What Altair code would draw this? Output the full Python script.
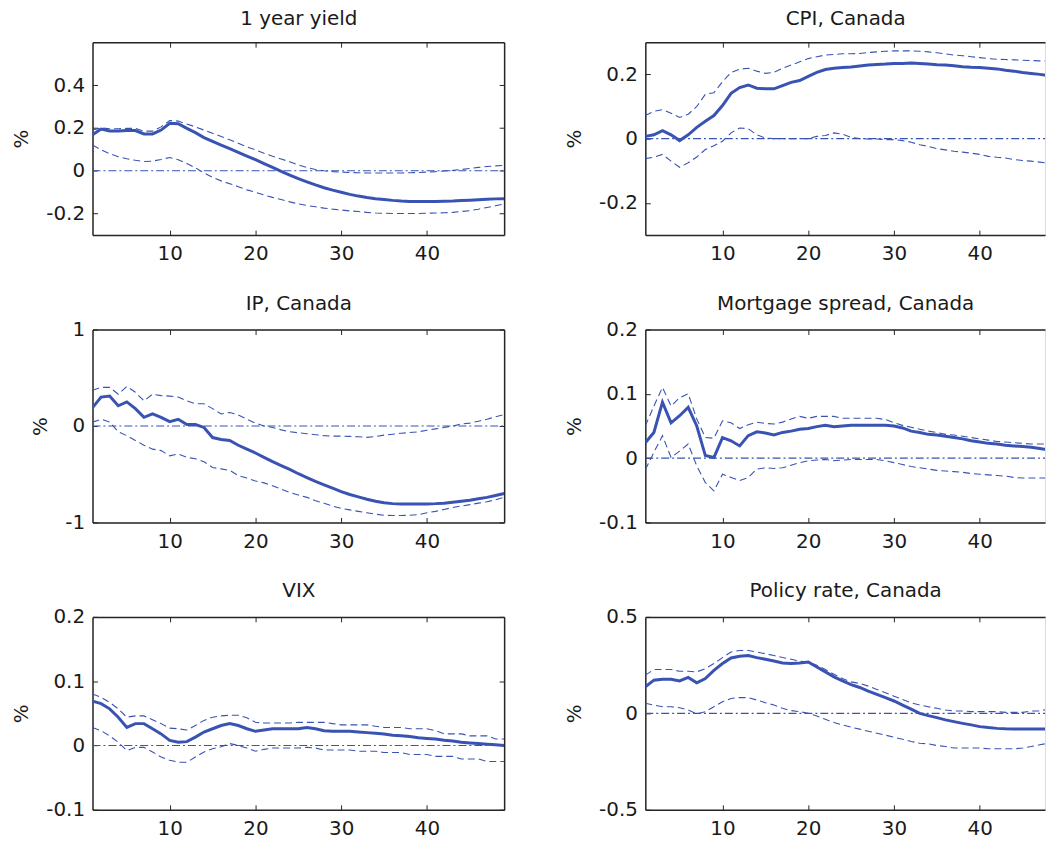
import altair as alt
import pandas as pd

X = list(range(1, 50))

# ---- 1 year yield ----
yield_med = [0.168, 0.195, 0.186, 0.186, 0.188, 0.188, 0.172, 0.172, 0.19, 0.222,
             0.22, 0.198, 0.178, 0.155, 0.137, 0.12, 0.103, 0.086, 0.069, 0.052,
             0.034, 0.016, -0.003, -0.02, -0.037, -0.052, -0.066, -0.079, -0.09, -0.1,
             -0.11, -0.118, -0.125, -0.13, -0.134, -0.138, -0.141, -0.143, -0.143, -0.143,
             -0.143, -0.142, -0.141, -0.139, -0.137, -0.135, -0.133, -0.131, -0.13]
yield_up = [0.19, 0.2, 0.196, 0.196, 0.198, 0.198, 0.185, 0.185, 0.205, 0.235,
            0.232, 0.218, 0.205, 0.19, 0.175, 0.16, 0.145, 0.128, 0.112, 0.098,
            0.082, 0.068, 0.055, 0.042, 0.027, 0.015, 0.006, 0.0, -0.004, -0.006,
            -0.008, -0.009, -0.01, -0.01, -0.01, -0.01, -0.01, -0.009, -0.008, -0.006,
            -0.004, -0.001, 0.002, 0.006, 0.011, 0.016, 0.02, 0.023, 0.025]
yield_lo = [0.12, 0.098, 0.08, 0.066, 0.056, 0.049, 0.043, 0.045, 0.053, 0.062,
            0.052, 0.034, 0.014, -0.01, -0.031, -0.047, -0.06, -0.074, -0.089, -0.1,
            -0.113, -0.124, -0.134, -0.145, -0.154, -0.162, -0.168, -0.174, -0.179, -0.183,
            -0.187, -0.19, -0.194, -0.197, -0.198, -0.199, -0.199, -0.199, -0.199, -0.198,
            -0.197, -0.196, -0.194, -0.19, -0.186, -0.179, -0.171, -0.163, -0.155]

# ---- CPI, Canada ----
cpi_med = [0.007, 0.012, 0.025, 0.012, -0.006, 0.012, 0.035, 0.054, 0.072, 0.103,
           0.141, 0.159, 0.167, 0.157, 0.155, 0.155, 0.165, 0.175, 0.181, 0.194,
           0.206, 0.215, 0.219, 0.221, 0.223, 0.226, 0.229, 0.231, 0.232, 0.234,
           0.234, 0.235, 0.234, 0.232, 0.23, 0.229, 0.227, 0.224, 0.222, 0.221,
           0.219, 0.217, 0.213, 0.21, 0.206, 0.203, 0.2, 0.196, 0.194]
cpi_up = [0.072, 0.085, 0.09, 0.079, 0.066, 0.076, 0.1, 0.138, 0.143, 0.177,
          0.206, 0.216, 0.219, 0.21, 0.203, 0.206, 0.219, 0.229, 0.239, 0.249,
          0.255, 0.26, 0.262, 0.264, 0.264, 0.265, 0.268, 0.27, 0.272, 0.273,
          0.273, 0.273, 0.272, 0.27, 0.267, 0.264, 0.26, 0.258, 0.255, 0.252,
          0.249, 0.247, 0.246, 0.245, 0.244, 0.243, 0.242, 0.241, 0.24]
cpi_lo = [-0.062, -0.058, -0.049, -0.07, -0.089, -0.075, -0.057, -0.034, -0.022, -0.008,
          0.018, 0.033, 0.031, 0.012, 0.002, 0.0, 0.0, 0.0, 0.0, 0.0,
          0.007, 0.01, 0.018, 0.014, 0.004, 0.0, -0.001, -0.001, -0.003, -0.003,
          -0.006, -0.011, -0.019, -0.024, -0.031, -0.035, -0.039, -0.042, -0.045, -0.049,
          -0.055, -0.058, -0.06, -0.065, -0.068, -0.07, -0.073, -0.076, -0.078]

# ---- IP, Canada ----
ip_med = [0.19, 0.3, 0.31, 0.21, 0.25, 0.18, 0.09, 0.125, 0.09, 0.045,
          0.07, 0.015, 0.015, -0.015, -0.12, -0.14, -0.15, -0.2, -0.24, -0.28,
          -0.325, -0.37, -0.41, -0.45, -0.495, -0.535, -0.575, -0.61, -0.645, -0.68,
          -0.71, -0.735, -0.76, -0.78, -0.795, -0.805, -0.808, -0.81, -0.81, -0.808,
          -0.805, -0.8, -0.79, -0.78, -0.77, -0.755, -0.74, -0.72, -0.7]
ip_up = [0.37, 0.4, 0.4, 0.33, 0.41, 0.35, 0.26, 0.33, 0.315, 0.31,
         0.3, 0.26, 0.23, 0.23, 0.18, 0.125, 0.14, 0.115, 0.07, 0.03,
         0.0, -0.015, -0.04, -0.06, -0.07, -0.08, -0.09, -0.1, -0.105, -0.105,
         -0.108, -0.112, -0.118, -0.11, -0.095, -0.085, -0.075, -0.068, -0.06, -0.045,
         -0.03, -0.015, 0.0, 0.02, 0.03, 0.05, 0.07, 0.095, 0.12]
ip_lo = [0.04, 0.07, 0.04, -0.06, -0.1, -0.15, -0.2, -0.24, -0.255, -0.31,
         -0.29, -0.325, -0.34, -0.37, -0.43, -0.445, -0.46, -0.515, -0.54, -0.57,
         -0.59, -0.62, -0.655, -0.69, -0.715, -0.74, -0.775, -0.8, -0.83, -0.855,
         -0.87, -0.885, -0.9, -0.915, -0.925, -0.928, -0.928, -0.925, -0.92, -0.9,
         -0.885, -0.865, -0.845, -0.83, -0.815, -0.8, -0.785, -0.765, -0.74]

# ---- Mortgage spread, Canada ----
mort_med = [0.024, 0.04, 0.087, 0.055, 0.066, 0.079, 0.05, 0.004, 0.001, 0.032,
            0.027, 0.019, 0.035, 0.041, 0.039, 0.036, 0.04, 0.042, 0.045, 0.046,
            0.049, 0.051, 0.049, 0.05, 0.051, 0.051, 0.051, 0.051, 0.051, 0.05,
            0.047, 0.042, 0.04, 0.037, 0.036, 0.034, 0.032, 0.03, 0.027, 0.025,
            0.023, 0.022, 0.02, 0.019, 0.018, 0.017, 0.015, 0.013, 0.012]
mort_up = [0.05, 0.081, 0.11, 0.081, 0.094, 0.1, 0.061, 0.032, 0.031, 0.058,
           0.055, 0.046, 0.052, 0.056, 0.054, 0.053, 0.056, 0.061, 0.065, 0.062,
           0.065, 0.065, 0.065, 0.062, 0.062, 0.062, 0.062, 0.062, 0.06, 0.055,
           0.051, 0.048, 0.045, 0.042, 0.04, 0.037, 0.036, 0.034, 0.032, 0.03,
           0.028, 0.026, 0.025, 0.024, 0.023, 0.022, 0.022, 0.022, 0.022]
mort_lo = [-0.018, 0.009, 0.035, 0.001, 0.011, 0.022, -0.012, -0.038, -0.051, -0.025,
           -0.03, -0.035, -0.03, -0.017, -0.015, -0.016, -0.015, -0.011, -0.007, -0.004,
           -0.003, -0.002, -0.004, -0.003, -0.002, -0.002, -0.002, -0.002, -0.004, -0.007,
           -0.01, -0.013, -0.015, -0.017, -0.019, -0.02, -0.021, -0.022, -0.024, -0.025,
           -0.026, -0.027, -0.028, -0.03, -0.031, -0.031, -0.031, -0.031, -0.031]

# ---- VIX ----
vix_med = [0.069, 0.065, 0.057, 0.044, 0.028, 0.034, 0.034, 0.026, 0.018, 0.008,
           0.005, 0.006, 0.013, 0.021, 0.026, 0.031, 0.034, 0.031, 0.026, 0.022,
           0.024, 0.026, 0.026, 0.026, 0.026, 0.028, 0.026, 0.023, 0.022, 0.022,
           0.022, 0.021, 0.02, 0.019, 0.018, 0.016, 0.015, 0.014, 0.012, 0.011,
           0.01, 0.008, 0.007, 0.005, 0.004, 0.003, 0.002, 0.001, 0.0]
vix_up = [0.08, 0.075, 0.067, 0.057, 0.044, 0.046, 0.046, 0.04, 0.034, 0.027,
          0.026, 0.024, 0.031, 0.039, 0.044, 0.046, 0.047, 0.047, 0.043, 0.036,
          0.035, 0.035, 0.035, 0.035, 0.036, 0.036, 0.036, 0.036, 0.034, 0.032,
          0.032, 0.032, 0.032, 0.03, 0.028, 0.028, 0.028, 0.026, 0.026, 0.026,
          0.023, 0.018, 0.018, 0.018, 0.015, 0.015, 0.015, 0.01, 0.01]
vix_lo = [0.028, 0.023, 0.015, 0.005, -0.008, -0.003, -0.003, -0.01, -0.018, -0.023,
          -0.026, -0.026, -0.018, -0.01, -0.005, -0.002, 0.003, 0.0, -0.004, -0.009,
          -0.006, -0.004, -0.004, -0.004, -0.004, -0.003, -0.004, -0.007, -0.007, -0.007,
          -0.007, -0.009, -0.009, -0.009, -0.011, -0.011, -0.011, -0.014, -0.014, -0.014,
          -0.017, -0.017, -0.017, -0.021, -0.021, -0.021, -0.025, -0.025, -0.025]

# ---- Policy rate, Canada ----
pol_med = [0.137, 0.172, 0.177, 0.177, 0.168, 0.186, 0.158, 0.18, 0.223, 0.258,
           0.287, 0.296, 0.3, 0.289, 0.28, 0.271, 0.261, 0.258, 0.261, 0.266,
           0.24, 0.215, 0.189, 0.168, 0.149, 0.134, 0.115, 0.098, 0.081, 0.064,
           0.043, 0.022, 0.0, -0.012, -0.022, -0.034, -0.043, -0.052, -0.06, -0.069,
           -0.074, -0.078, -0.08, -0.081, -0.081, -0.081, -0.081, -0.081, -0.081]
pol_up = [0.198, 0.227, 0.227, 0.227, 0.218, 0.218, 0.215, 0.232, 0.258, 0.289,
          0.318, 0.326, 0.326, 0.318, 0.309, 0.3, 0.289, 0.28, 0.271, 0.266,
          0.249, 0.227, 0.203, 0.18, 0.163, 0.155, 0.141, 0.124, 0.107, 0.089,
          0.072, 0.055, 0.043, 0.034, 0.026, 0.017, 0.012, 0.012, 0.009, 0.009,
          0.009, 0.009, 0.005, 0.005, 0.005, 0.012, 0.012, 0.022, 0.022]
pol_lo = [0.052, 0.043, 0.034, 0.034, 0.029, 0.017, -0.003, 0.009, 0.034, 0.06,
          0.077, 0.082, 0.081, 0.069, 0.055, 0.043, 0.026, 0.014, 0.009, 0.0,
          -0.014, -0.031, -0.048, -0.06, -0.072, -0.082, -0.093, -0.103, -0.113, -0.124,
          -0.134, -0.146, -0.155, -0.158, -0.167, -0.172, -0.18, -0.18, -0.18, -0.18,
          -0.184, -0.184, -0.184, -0.184, -0.18, -0.172, -0.163, -0.155, -0.155]

X_TICKS = [10, 20, 30, 40]

BLUE = "#3953b3"
FRAME = "#262626"
TEXT = "#1a1a1a"
FONT = "DejaVu Sans"
FS = 20
TICK = 5

LABEL_EXPR = "datum.value < 0 ? '-' + format(-datum.value, '~g') : format(datum.value, '~g')"


def tick_axis(orient, values, labels, title=None, title_pad=14):
    kw = dict(orient=orient, values=values, domain=False, ticks=True, tickSize=TICK,
              offset=-TICK, tickColor=FRAME, tickWidth=1, grid=False, labels=labels)
    if labels:
        kw.update(labelFont=FONT, labelFontSize=FS, labelColor=TEXT)
        if orient in ("left", "right"):
            kw.update(labelExpr=LABEL_EXPR, labelPadding=8)
        else:
            kw.update(format="d", labelPadding=9)
    else:
        kw.update(labelPadding=0)
    if title is not None:
        kw.update(title=title, titleFont=FONT, titleFontSize=FS, titleFontWeight="normal",
                  titleColor=TEXT, titlePadding=title_pad)
        if orient == "top":
            kw.update(titleBaseline="alphabetic")
    else:
        kw.update(title=None)
    return alt.Axis(**kw)


def domain_axis(orient):
    return alt.Axis(orient=orient, domain=True, domainColor=FRAME, domainWidth=1.5,
                    ticks=False, labels=False, grid=False, title=None, offset=0)


def panel(title, med, up, lo, ydom, yticks, width, xmax, has_right, title_pad):
    assert len(med) == len(X) and len(up) == len(X) and len(lo) == len(X), title
    df = pd.DataFrame({"x": X, "med": med, "up": up, "lo": lo, "zero": [0.0] * len(X)})
    xs = alt.Scale(domain=[1, xmax], nice=False, zero=False)
    ys = alt.Scale(domain=ydom, nice=False, zero=False)
    base = alt.Chart(df)

    zero = base.mark_line(color=BLUE, strokeWidth=1.1, strokeDash=[8, 3, 2, 3], clip=True).encode(
        x=alt.X("x:Q", scale=xs, axis=domain_axis("top")),
        y=alt.Y("zero:Q", scale=ys, axis=domain_axis("right") if has_right else None),
    )
    lower = base.mark_line(color=BLUE, strokeWidth=1.1, strokeDash=[7, 4], clip=True).encode(
        x=alt.X("x:Q", scale=xs, axis=domain_axis("bottom")),
        y=alt.Y("lo:Q", scale=ys, axis=domain_axis("left")),
    )
    upper = base.mark_line(color=BLUE, strokeWidth=1.1, strokeDash=[7, 4], clip=True).encode(
        x=alt.X("x:Q", scale=xs,
                axis=tick_axis("top", X_TICKS, False, title=title, title_pad=title_pad)),
        y=alt.Y("up:Q", scale=ys,
                axis=tick_axis("right", yticks, False) if has_right else None),
    )
    median = base.mark_line(color=BLUE, strokeWidth=3, clip=True).encode(
        x=alt.X("x:Q", scale=xs, axis=tick_axis("bottom", X_TICKS, True)),
        y=alt.Y("med:Q", scale=ys, axis=tick_axis("left", yticks, True, title="%")),
    )
    return alt.layer(zero, lower, upper, median).resolve_axis(
        x="independent", y="independent"
    ).properties(width=width, height=194)


LW, RW = 414, 402
LMAX, RMAX = 49, 1 + RW / (LW / 48)

panels = [
    panel("1 year yield", yield_med, yield_up, yield_lo, [-0.3, 0.6], [-0.2, 0, 0.2, 0.4], LW, LMAX, True, 17),
    panel("CPI, Canada", cpi_med, cpi_up, cpi_lo, [-0.3, 0.3], [-0.2, 0, 0.2], RW, RMAX, False, 17),
    panel("IP, Canada", ip_med, ip_up, ip_lo, [-1, 1], [-1, 0, 1], LW, LMAX, True, 20),
    panel("Mortgage spread, Canada", mort_med, mort_up, mort_lo, [-0.1, 0.2], [-0.1, 0, 0.1, 0.2], RW, RMAX, False, 20),
    panel("VIX", vix_med, vix_up, vix_lo, [-0.1, 0.2], [-0.1, 0, 0.1, 0.2], LW, LMAX, True, 20),
    panel("Policy rate, Canada", pol_med, pol_up, pol_lo, [-0.5, 0.5], [-0.5, 0, 0.5], RW, RMAX, False, 20),
]

chart = alt.concat(
    *panels, columns=2, spacing={"row": 95, "column": 142}, bounds="flush"
).properties(
    padding={"left": 3, "top": -2, "right": 0, "bottom": 0}
).configure_view(stroke=None).configure(background="white")

chart.save("out.html", embed_options={"renderer": "svg", "actions": False})
